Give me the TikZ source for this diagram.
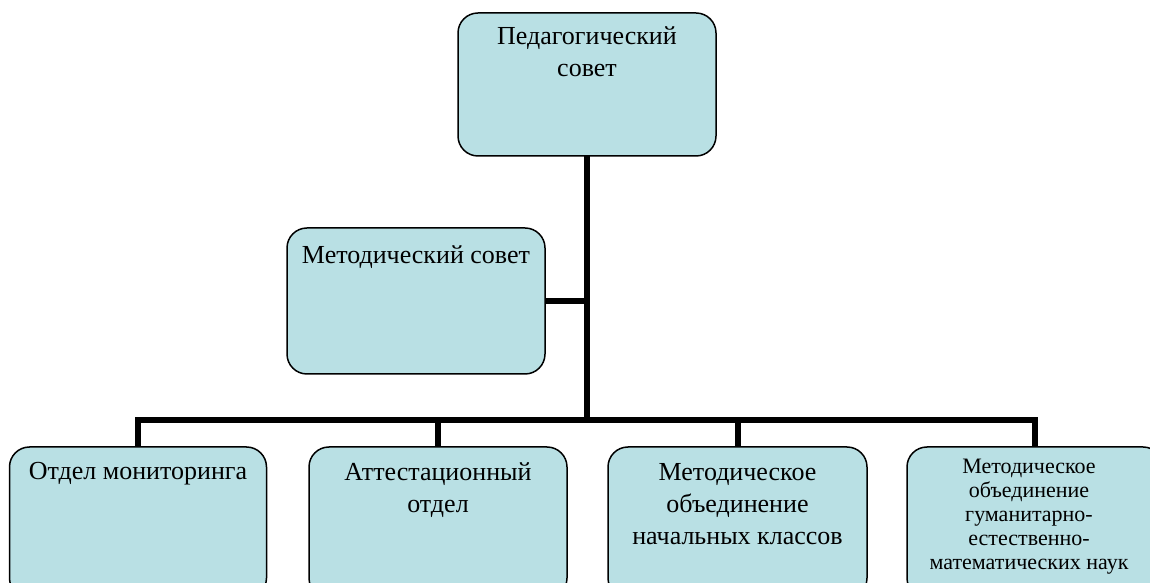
\documentclass[tikz,border=0pt]{standalone}
\usepackage{fontspec}
\setmainfont{Liberation Serif}
\definecolor{boxfill}{RGB}{185,224,228}
\tikzset{
  box/.style={draw=black, line width=1.5pt, fill=boxfill, rounded corners=20pt,
              minimum height=#1, inner sep=0pt, outer sep=0pt},
  conn/.style={draw=black, line width=6pt, line join=miter},
  lbl/.style={font=\fontsize{26}{32}\selectfont, align=center, anchor=north, inner sep=0pt},
  lblsmall/.style={font=\fontsize{22}{24}\selectfont, align=center, anchor=north, inner sep=0pt},
}
\begin{document}
\begin{tikzpicture}[x=1pt,y=1pt]
\useasboundingbox (0,0) rectangle (1150,583);
\clip (0,0) rectangle (1150,583);
% boxes
\node[box=143pt, minimum width=258pt] (ped) at (587,498.5) {};
\node[box=146pt, minimum width=258pt] (met) at (416,282) {};
\node[box=151pt, minimum width=257pt] (b1) at (138,60.5) {};
\node[box=151pt, minimum width=258pt] (b2) at (438,60.5) {};
\node[box=151pt, minimum width=259pt] (b3) at (737.5,60.5) {};
\node[box=151pt, minimum width=256pt] (b4) at (1035,60.5) {};
% connectors
\coordinate (jb) at (587,162.5);
\draw[conn] (ped.south) -- (jb);
\draw[conn] (met.east) -- (met.east -| jb);
\draw[conn] (b1.north) |- (jb) -| (b4.north);
\draw[conn] (b2.north) -- (b2.north |- jb);
\draw[conn] (b3.north) -- (b3.north |- jb);
% texts
\node[lbl] (ped-t) at ([yshift=-8.6pt]ped.north) {\strut Педагогический\\совет};
\node[lbl] (met-t) at ([yshift=-12.6pt]met.north) {\strut Методический совет};
\node[lbl] (b1-t) at ([yshift=-9.6pt]b1.north) {\strut Отдел мониторинга};
\node[lbl] (b2-t) at ([yshift=-10.6pt]b2.north) {\strut Аттестационный\\отдел};
\node[lbl] (b3-t) at ([yshift=-10.6pt]b3.north) {\strut Методическое\\объединение\\начальных классов};
\node[lblsmall] (b4-t) at ([xshift=-6pt,yshift=-9.2pt]b4.north) {\strut Методическое\\объединение\\гуманитарно-\\естественно-\\математических наук};
\end{tikzpicture}
\end{document}
